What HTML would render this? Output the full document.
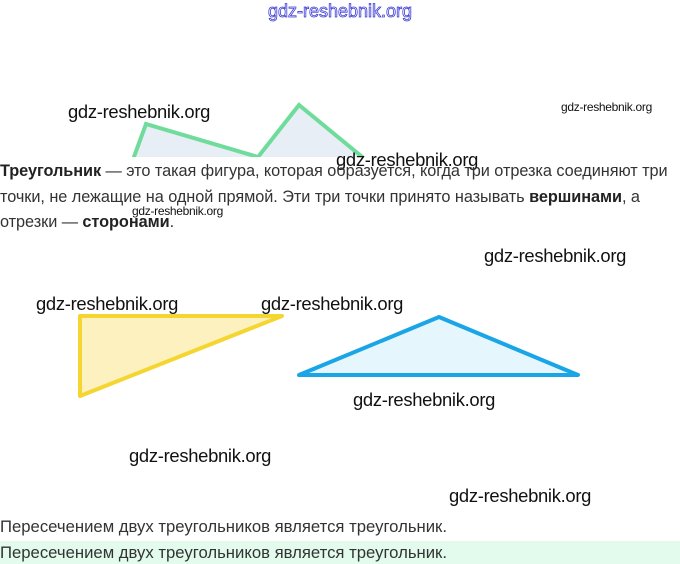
<!DOCTYPE html>
<html><head><meta charset="utf-8"><style>
html,body{margin:0;padding:0;background:#fff;}
body{width:680px;height:564px;position:relative;overflow:hidden;font-family:"Liberation Sans",sans-serif;}
.w{position:absolute;font-size:18.4px;color:#111;white-space:nowrap;letter-spacing:-0.3px;}
.ws{position:absolute;font-size:12px;color:#111;white-space:nowrap;letter-spacing:-0.3px;}
.p{position:absolute;left:0;font-size:16.3px;color:#333;white-space:nowrap;letter-spacing:-0.05px;}
.q{position:absolute;left:0;font-size:16.7px;color:#333;white-space:nowrap;}
b{color:#222;}
</style></head><body>
<svg width="680" height="564" style="position:absolute;left:0;top:0">
<defs><clipPath id="c"><rect x="0" y="0" width="680" height="157"/></clipPath></defs>
<g clip-path="url(#c)">
<polygon points="131,165 146,124 258,157 299,105 372,165" fill="#e8eef6"/>
<polyline points="131,165 146,124 258,157 299,105 372,165" fill="none" stroke="#6fdc9c" stroke-width="4" stroke-linejoin="miter"/>
</g>
<polygon points="80,316 282,316 80,396" fill="#fdf1c0" stroke="#f5d630" stroke-width="4" stroke-linejoin="round"/>
<polygon points="299,375 439,317 578,375" fill="#e6f6fd" stroke="#1aa5e6" stroke-width="4" stroke-linejoin="round"/>
<rect x="0" y="541" width="680" height="23" fill="#e2fbed"/>
<text x="340" y="17" text-anchor="middle" font-family="Liberation Sans" font-size="18" fill="#fff" stroke="#3b3bd6" stroke-width="0.8">gdz-reshebnik.org</text>
</svg>
<div class="w" style="left:68px;top:101px">gdz-reshebnik.org</div>
<div class="ws" style="left:561px;top:100px">gdz-reshebnik.org</div>
<div class="w" style="left:336px;top:149px">gdz-reshebnik.org</div>
<div class="p" style="top:162px"><b>Треугольник</b> — это такая фигура, которая образуется, когда три отрезка соединяют три</div>
<div class="p" style="top:188px">точки, не лежащие на одной прямой. Эти три точки принято называть <b>вершинами</b>, а</div>
<div class="ws" style="left:132px;top:204px">gdz-reshebnik.org</div>
<div class="p" style="top:213px">отрезки — <b>сторонами</b>.</div>
<div class="w" style="left:484px;top:245px">gdz-reshebnik.org</div>
<div class="w" style="left:36px;top:293px">gdz-reshebnik.org</div>
<div class="w" style="left:261px;top:293px">gdz-reshebnik.org</div>
<div class="w" style="left:353px;top:389px">gdz-reshebnik.org</div>
<div class="w" style="left:129px;top:445px">gdz-reshebnik.org</div>
<div class="w" style="left:449px;top:485px">gdz-reshebnik.org</div>
<div class="q" style="top:517px">Пересечением двух треугольников является треугольник.</div>
<div class="q" style="top:543px">Пересечением двух треугольников является треугольник.</div>
</body></html>
